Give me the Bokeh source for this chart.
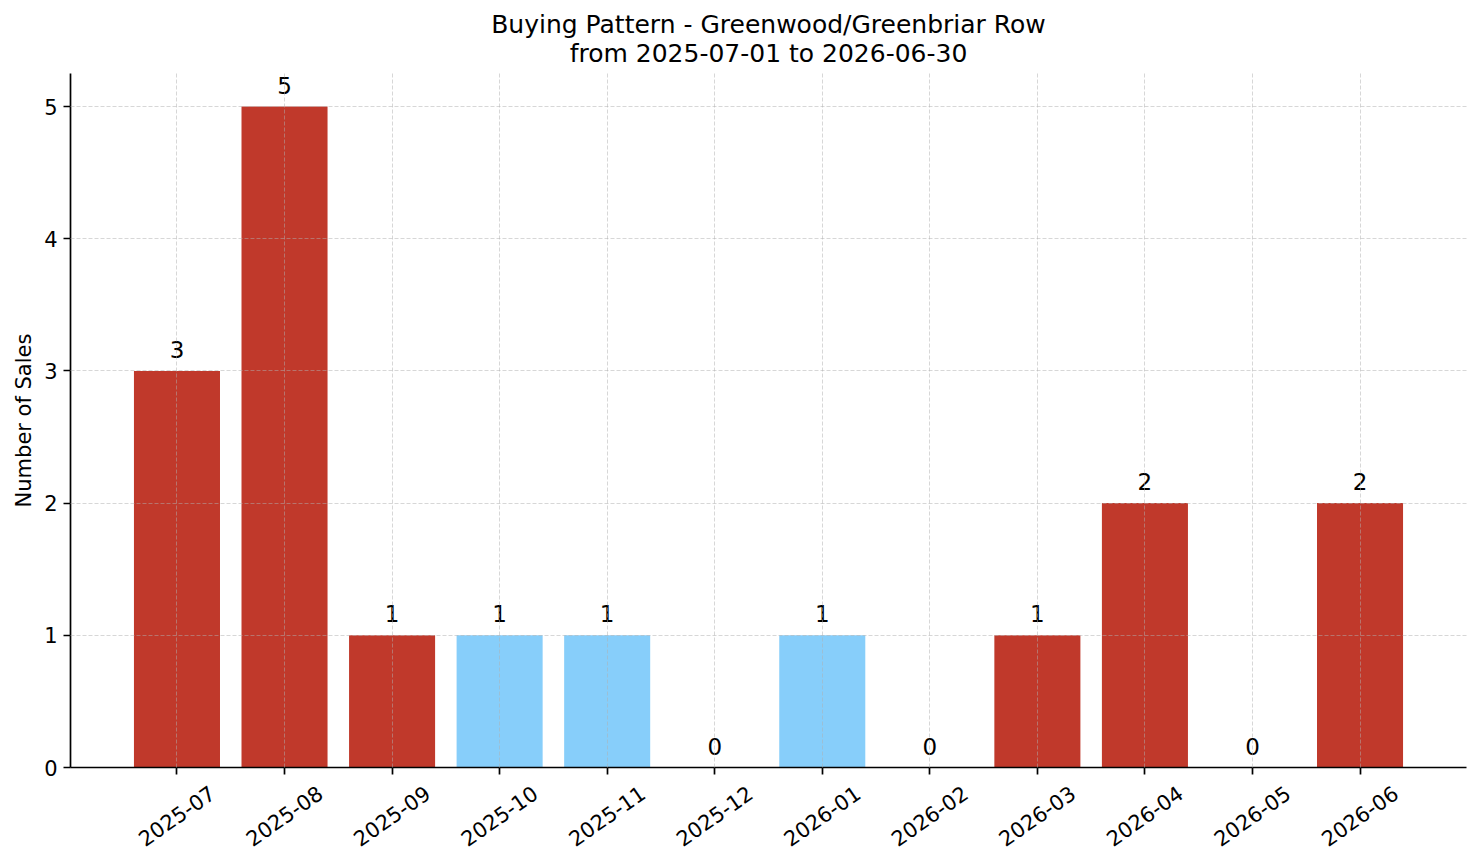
import math
from bokeh.plotting import figure
from bokeh.models import (ColumnDataSource, FixedTicker, Range1d, Title, LinearAxis)
from bokeh.transform import factor_cmap
from bokeh.core.properties import value
from bokeh.embed import file_html
from bokeh.resources import INLINE

# ---- data ----
months = ["2025-07", "2025-08", "2025-09", "2025-10", "2025-11", "2025-12",
          "2026-01", "2026-02", "2026-03", "2026-04", "2026-05", "2026-06"]
sales = [3, 5, 1, 1, 1, 0, 1, 0, 1, 2, 0, 2]
period = ["high", "high", "high", "low", "low", "low",
          "low", "low", "high", "high", "high", "high"]
y_ticks = [0, 1, 2, 3, 4, 5]
title_lines = ["Buying Pattern - Greenwood/Greenbriar Row",
               "from 2025-07-01 to 2026-06-30"]

FONT = "DejaVu Sans"
RED = "#c0392b"
BLUE = "#87cefa"
LABEL_PAD = 0.098     # gap between bar top and its value label (data units)
XLABEL_SHIFT = 0.33   # rotated month labels: anchor shift so they sit centred under ticks

xs = list(range(len(months)))
src = ColumnDataSource(dict(
    x=xs, sales=sales, period=period,
    label=[str(v) for v in sales],
    label_y=[v + LABEL_PAD for v in sales],
))

p = figure(width=1481, height=863, output_backend="svg", toolbar_location=None,
           title=None,
           x_range=Range1d(-0.99, 11.99), y_range=Range1d(0, 5.25),
           min_border_left=70, min_border_right=15,
           min_border_top=73, min_border_bottom=96)
p.outline_line_color = None
p.background_fill_color = "white"
p.border_fill_color = "white"

p.vbar(x="x", top="sales", width=0.8, source=src, line_color=None,
       fill_color=factor_cmap("period", [RED, BLUE], ["high", "low"]))

p.text(x="x", y="label_y", text="label", source=src,
       text_align="center", text_baseline="bottom",
       text_font=value(FONT), text_font_size="23px", text_color="black")

# axes
p.xaxis.ticker = FixedTicker(ticks=xs)
p.yaxis.ticker = FixedTicker(ticks=y_ticks)
p.xgrid.ticker = FixedTicker(ticks=xs)
p.ygrid.ticker = FixedTicker(ticks=y_ticks)
p.xaxis.major_label_overrides = {i: "" for i in xs}
p.xaxis.major_label_standoff = 0

for ax in (p.xaxis[0], p.yaxis[0]):
    ax.axis_line_color = "black"
    ax.axis_line_width = 1.7
    ax.major_tick_line_color = "black"
    ax.major_tick_line_width = 1.7
    ax.major_tick_out = 7
    ax.major_tick_in = 0
    ax.minor_tick_line_color = None
    ax.major_label_text_font = FONT
    ax.major_label_text_color = "black"

p.yaxis.major_label_text_font_size = "21px"
p.yaxis.major_label_standoff = 6
p.yaxis.axis_label = "Number of Sales"
p.yaxis.axis_label_text_font = FONT
p.yaxis.axis_label_text_font_size = "21px"
p.yaxis.axis_label_text_font_style = "normal"
p.yaxis.axis_label_text_color = "black"
p.yaxis.axis_label_standoff = 5

# label-only axis for rotated month names
label_ticks = [x + XLABEL_SHIFT for x in xs]
lab_axis = LinearAxis(ticker=FixedTicker(ticks=label_ticks),
                      major_label_overrides={t: m for t, m in zip(label_ticks, months)},
                      axis_line_color=None, major_tick_line_color=None,
                      minor_tick_line_color=None, major_tick_out=0, major_tick_in=0,
                      major_label_orientation=math.radians(35),
                      major_label_standoff=16,
                      major_label_text_font=FONT, major_label_text_font_size="21px",
                      major_label_text_color="black")
p.add_layout(lab_axis, "below")

p.grid.grid_line_color = "#b0b0b0"
p.grid.grid_line_alpha = 0.5
p.grid.grid_line_dash = "4 2"
p.grid.grid_line_width = 1
p.xgrid.level = "overlay"
p.ygrid.level = "overlay"

# two-line title (first added is closest to the plot)
p.add_layout(Title(text=title_lines[1], align="center",
                   text_font=FONT, text_font_size="25px",
                   text_font_style="normal", text_color="black",
                   standoff=11), "above")
p.add_layout(Title(text=title_lines[0], align="center",
                   text_font=FONT, text_font_size="25px",
                   text_font_style="normal", text_color="black",
                   standoff=-14), "above")

open("out.html", "w").write(file_html(p, INLINE))
